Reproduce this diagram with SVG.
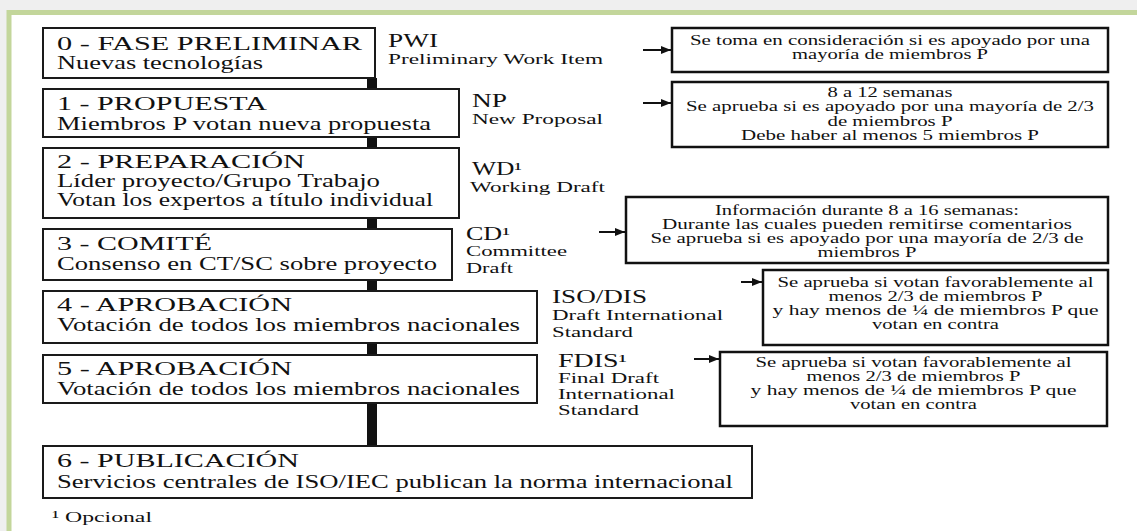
<svg xmlns="http://www.w3.org/2000/svg" width="1137" height="531" viewBox="0 0 1137 531" font-family="'Liberation Serif', 'DejaVu Serif', serif">
<style>
text{font-family:'Liberation Serif','DejaVu Serif',serif;fill:#111}
.stage{fill:#fff;stroke:#1a1a1a;stroke-width:2}
.note{fill:#fff;stroke:#111;stroke-width:2.5}
.t{font-size:19px}
.lab{font-size:18px}
.sub{font-size:15.5px}
.nt{font-size:14px;text-anchor:middle}
.bar{fill:#111}
.arr{stroke:#111;stroke-width:2;fill:none;marker-end:url(#ah)}
</style>
<defs>
<marker id="ah" viewBox="0 0 10 8" refX="10" refY="4" markerWidth="10" markerHeight="8" markerUnits="userSpaceOnUse" orient="auto">
<path d="M0,0 L10,4 L0,8 Z" fill="#111"/>
</marker>
</defs>
<rect x="0" y="0" width="1137" height="531" fill="#efefef"/>
<rect x="9" y="12.5" width="1140" height="530" fill="#fff" stroke="#c3d69b" stroke-width="5"/>

<g id="connectors">
<rect class="bar" x="367" y="78" width="10" height="11"/>
<rect class="bar" x="367" y="137" width="10" height="11"/>
<rect class="bar" x="367" y="218" width="10" height="11"/>
<rect class="bar" x="367" y="280" width="10" height="11"/>
<rect class="bar" x="367" y="343" width="10" height="12"/>
<rect class="bar" x="367" y="403" width="10" height="43"/>
<line class="arr" x1="643" y1="50" x2="671" y2="50"/>
<line class="arr" x1="643" y1="103" x2="671" y2="103"/>
<line class="arr" x1="599" y1="232" x2="625" y2="232"/>
<line class="arr" x1="741" y1="282" x2="762" y2="282"/>
<line class="arr" x1="694" y1="359" x2="719" y2="359"/>
</g>

<g id="stage0">
<rect class="stage" x="43" y="28" width="332" height="50"/>
<text class="t" x="57" y="50" textLength="305" lengthAdjust="spacingAndGlyphs">0 - FASE PRELIMINAR</text>
<text class="t" x="57" y="69" textLength="206" lengthAdjust="spacingAndGlyphs">Nuevas tecnologías</text>
</g>
<g id="stage1">
<rect class="stage" x="43" y="89" width="416" height="48"/>
<text class="t" x="57" y="110" textLength="210" lengthAdjust="spacingAndGlyphs">1 - PROPUESTA</text>
<text class="t" x="57" y="130" textLength="374" lengthAdjust="spacingAndGlyphs">Miembros P votan nueva propuesta</text>
</g>
<g id="stage2">
<rect class="stage" x="43" y="148" width="416" height="70"/>
<text class="t" x="57" y="168" textLength="248" lengthAdjust="spacingAndGlyphs">2 - PREPARACIÓN</text>
<text class="t" x="57" y="187" textLength="323" lengthAdjust="spacingAndGlyphs">Líder proyecto/Grupo Trabajo</text>
<text class="t" x="57" y="206" textLength="376" lengthAdjust="spacingAndGlyphs">Votan los expertos a título individual</text>
</g>
<g id="stage3">
<rect class="stage" x="43" y="229" width="409" height="51"/>
<text class="t" x="57" y="250" textLength="155" lengthAdjust="spacingAndGlyphs">3 - COMITÉ</text>
<text class="t" x="57" y="270" textLength="380" lengthAdjust="spacingAndGlyphs">Consenso en CT/SC sobre proyecto</text>
</g>
<g id="stage4">
<rect class="stage" x="43" y="291" width="494" height="52"/>
<text class="t" x="57" y="311" textLength="235" lengthAdjust="spacingAndGlyphs">4 - APROBACIÓN</text>
<text class="t" x="57" y="331" textLength="463" lengthAdjust="spacingAndGlyphs">Votación de todos los miembros nacionales</text>
</g>
<g id="stage5">
<rect class="stage" x="43" y="355" width="494" height="48"/>
<text class="t" x="57" y="375" textLength="235" lengthAdjust="spacingAndGlyphs">5 - APROBACIÓN</text>
<text class="t" x="57" y="395" textLength="463" lengthAdjust="spacingAndGlyphs">Votación de todos los miembros nacionales</text>
</g>
<g id="stage6">
<rect class="stage" x="43" y="446" width="709" height="52"/>
<text class="t" x="57" y="467" textLength="242" lengthAdjust="spacingAndGlyphs">6 - PUBLICACIÓN</text>
<text class="t" x="57" y="488" textLength="676" lengthAdjust="spacingAndGlyphs">Servicios centrales de ISO/IEC publican la norma internacional</text>
</g>

<g id="label-pwi">
<text class="lab" x="388" y="47" textLength="50" lengthAdjust="spacingAndGlyphs">PWI</text>
<text class="sub" x="388" y="64" textLength="215" lengthAdjust="spacingAndGlyphs">Preliminary Work Item</text>
</g>
<g id="label-np">
<text class="lab" x="472" y="107" textLength="35" lengthAdjust="spacingAndGlyphs">NP</text>
<text class="sub" x="472" y="124" textLength="131" lengthAdjust="spacingAndGlyphs">New Proposal</text>
</g>
<g id="label-wd">
<text class="lab" x="472" y="175" textLength="50" lengthAdjust="spacingAndGlyphs">WD¹</text>
<text class="sub" x="470" y="192" textLength="135" lengthAdjust="spacingAndGlyphs">Working Draft</text>
</g>
<g id="label-cd">
<text class="lab" x="466" y="240" textLength="44" lengthAdjust="spacingAndGlyphs">CD¹</text>
<text class="sub" x="466" y="256" textLength="101" lengthAdjust="spacingAndGlyphs">Committee</text>
<text class="sub" x="466" y="273" textLength="47" lengthAdjust="spacingAndGlyphs">Draft</text>
</g>
<g id="label-dis">
<text class="lab" x="552" y="303" textLength="95" lengthAdjust="spacingAndGlyphs">ISO/DIS</text>
<text class="sub" x="552" y="320" textLength="171" lengthAdjust="spacingAndGlyphs">Draft International</text>
<text class="sub" x="552" y="337" textLength="81" lengthAdjust="spacingAndGlyphs">Standard</text>
</g>
<g id="label-fdis">
<text class="lab" x="558" y="367" textLength="69" lengthAdjust="spacingAndGlyphs">FDIS¹</text>
<text class="sub" x="558" y="383" textLength="101" lengthAdjust="spacingAndGlyphs">Final Draft</text>
<text class="sub" x="558" y="399" textLength="117" lengthAdjust="spacingAndGlyphs">International</text>
<text class="sub" x="558" y="415" textLength="81" lengthAdjust="spacingAndGlyphs">Standard</text>
</g>

<g id="note0">
<rect class="note" x="672" y="28" width="436" height="44"/>
<text class="nt" x="890" y="45" textLength="400" lengthAdjust="spacingAndGlyphs">Se toma en consideración si es apoyado por una</text>
<text class="nt" x="890" y="59" textLength="196" lengthAdjust="spacingAndGlyphs">mayoría de miembros P</text>
</g>
<g id="note1">
<rect class="note" x="672" y="82" width="436" height="65"/>
<text class="nt" x="890" y="97" textLength="125" lengthAdjust="spacingAndGlyphs">8 a 12 semanas</text>
<text class="nt" x="890" y="111" textLength="408" lengthAdjust="spacingAndGlyphs">Se aprueba si es apoyado por una mayoría de 2/3</text>
<text class="nt" x="890" y="126" textLength="125" lengthAdjust="spacingAndGlyphs">de miembros P</text>
<text class="nt" x="890" y="140" textLength="298" lengthAdjust="spacingAndGlyphs">Debe haber al menos 5 miembros P</text>
</g>
<g id="note3">
<rect class="note" x="626" y="197" width="482" height="66"/>
<text class="nt" x="867" y="215" textLength="304" lengthAdjust="spacingAndGlyphs">Información durante 8 a 16 semanas:</text>
<text class="nt" x="867" y="229" textLength="410" lengthAdjust="spacingAndGlyphs">Durante las cuales pueden remitirse comentarios</text>
<text class="nt" x="867" y="243" textLength="433" lengthAdjust="spacingAndGlyphs">Se aprueba si es apoyado por una mayoría de 2/3 de</text>
<text class="nt" x="867" y="257" textLength="99" lengthAdjust="spacingAndGlyphs">miembros P</text>
</g>
<g id="note4">
<rect class="note" x="763" y="270" width="345" height="75"/>
<text class="nt" x="935.5" y="287" textLength="316" lengthAdjust="spacingAndGlyphs">Se aprueba si votan favorablemente al</text>
<text class="nt" x="935.5" y="301" textLength="214" lengthAdjust="spacingAndGlyphs">menos 2/3 de miembros P</text>
<text class="nt" x="935.5" y="315" textLength="326" lengthAdjust="spacingAndGlyphs">y hay menos de ¼ de miembros P que</text>
<text class="nt" x="935.5" y="329" textLength="127" lengthAdjust="spacingAndGlyphs">votan en contra</text>
</g>
<g id="note5">
<rect class="note" x="720" y="352" width="387" height="74"/>
<text class="nt" x="913.5" y="367" textLength="316" lengthAdjust="spacingAndGlyphs">Se aprueba si votan favorablemente al</text>
<text class="nt" x="913.5" y="381" textLength="214" lengthAdjust="spacingAndGlyphs">menos 2/3 de miembros P</text>
<text class="nt" x="913.5" y="395" textLength="326" lengthAdjust="spacingAndGlyphs">y hay menos de ¼ de miembros P que</text>
<text class="nt" x="913.5" y="409" textLength="127" lengthAdjust="spacingAndGlyphs">votan en contra</text>
</g>

<g id="footnote">
<text class="sub" x="52" y="522" textLength="100" lengthAdjust="spacingAndGlyphs">¹ Opcional</text>
</g>
</svg>
